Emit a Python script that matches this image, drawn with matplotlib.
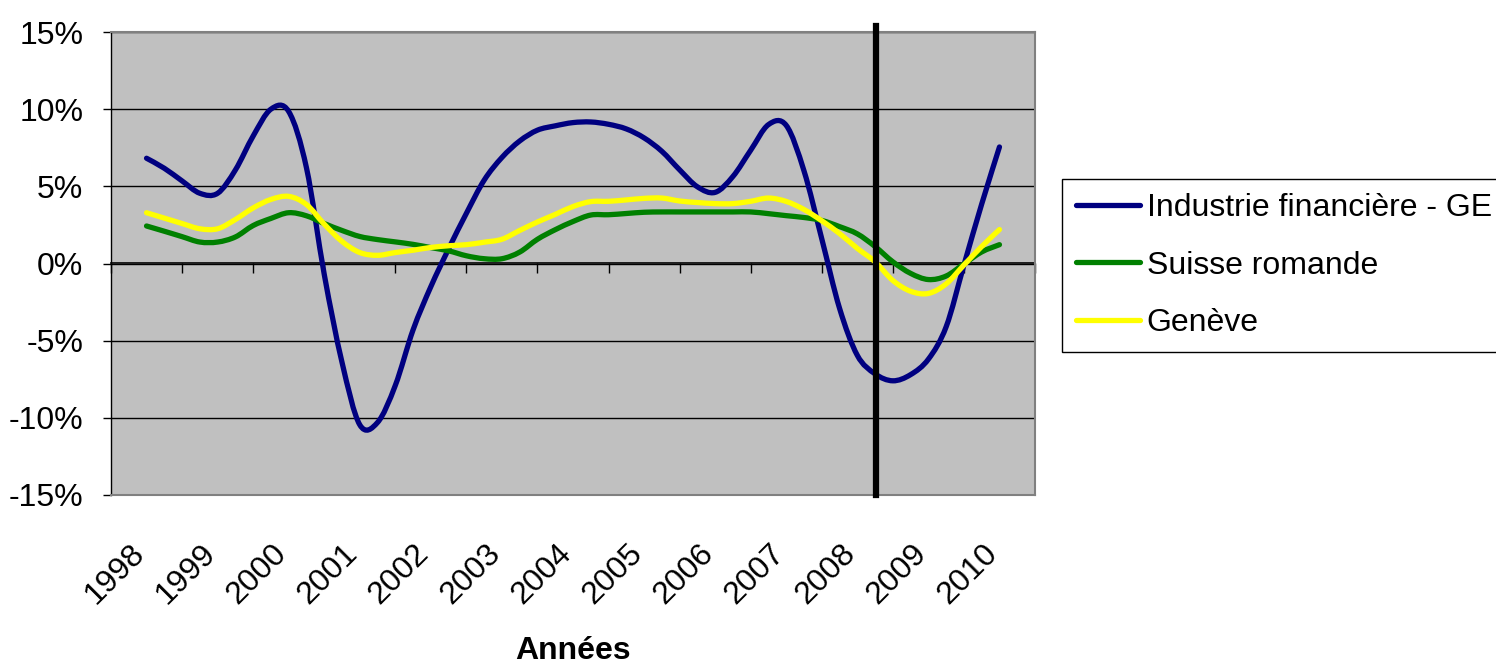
import numpy as np
import matplotlib
matplotlib.use("Agg")
import matplotlib.pyplot as plt
from matplotlib.path import Path
from matplotlib.patches import PathPatch
from matplotlib.lines import Line2D
from matplotlib.transforms import ScaledTranslation

plt.rcParams['font.family'] = ['Liberation Sans', 'DejaVu Sans']

# ---------------- data ----------------
years = list(range(1998, 2011))
year_labels = [str(y) for y in years]
# quarterly observations, mid-1998 .. mid-2010
dates = np.arange(1998.5, 2010.51, 0.25)

industrie_ge = [6.82, 6.17, 5.35, 4.55, 4.55, 6.06, 8.26, 10.0, 9.85, 6.2,
                -0.7, -6.4, -10.45, -10.3, -7.9, -4.3, -1.5, 0.95, 3.25, 5.4,
                6.87, 7.94, 8.64, 8.92, 9.13, 9.17, 9.02, 8.72, 8.14, 7.27,
                6.07, 4.97, 4.61, 5.64, 7.34, 9.0, 8.95, 6.0, 1.6, -2.9,
                -5.95, -7.15, -7.6, -7.2, -6.2, -4.1, -0.1, 3.85, 7.55]
suisse_romande = [2.43, 2.09, 1.74, 1.39, 1.39, 1.72, 2.46, 2.92, 3.29, 3.09,
                  2.59, 2.14, 1.75, 1.55, 1.4, 1.24, 1.03, 0.82, 0.5, 0.31,
                  0.31, 0.74, 1.57, 2.19, 2.72, 3.14, 3.16, 3.24, 3.32, 3.34,
                  3.34, 3.34, 3.34, 3.34, 3.34, 3.23, 3.1, 2.98, 2.79, 2.39,
                  1.92, 1.1, 0.11, -0.64, -1.04, -0.81, -0.03, 0.75, 1.22]
geneve = [3.29, 2.94, 2.59, 2.25, 2.25, 2.85, 3.6, 4.15, 4.35, 3.82,
          2.55, 1.43, 0.71, 0.53, 0.71, 0.86, 1.04, 1.15, 1.22, 1.38,
          1.57, 2.14, 2.69, 3.18, 3.69, 4.01, 4.03, 4.12, 4.22, 4.24,
          4.05, 3.95, 3.88, 3.88, 4.03, 4.24, 4.02, 3.5, 2.77, 1.94,
          0.98, 0.11, -1.1, -1.8, -1.94, -1.32, -0.1, 1.1, 2.2]

series_names = ["Industrie financière - GE", "Suisse romande", "Genève"]
series_values = [industrie_ge, suisse_romande, geneve]
series_colors = ["#000080", "#008000", "#FFFF00"]

crisis_marker = 2008.76
y_ticks = [-15, -10, -5, 0, 5, 10, 15]
y_tick_labels = ["-15%", "-10%", "-5%", "0%", "5%", "10%", "15%"]


def smooth_path(x, y):
    """Excel-like smoothed line (Bezier through the points)."""
    P = np.column_stack([x, y]).astype(float)
    n = len(P)
    verts = [P[0]]
    codes = [Path.MOVETO]
    for i in range(n - 1):
        p0 = P[i - 1] if i > 0 else P[i]
        p1 = P[i]
        p2 = P[i + 1]
        p3 = P[i + 2] if i + 2 < n else P[i + 1]
        c1 = p1 + (p2 - p0) / 6.0
        c2 = p2 - (p3 - p1) / 6.0
        verts += [c1, c2, p2]
        codes += [Path.CURVE4] * 3
    return Path(verts, codes)


# ---------------- figure ----------------
W, H = 1496, 667
fig = plt.figure(figsize=(W / 100, H / 100), dpi=100)
fig.patch.set_facecolor("white")
ax = fig.add_axes([111 / W, 1 - 495 / H, 924 / W, 463 / H])
ax.set_facecolor("#C0C0C0")
ax.set_xlim(1998, 2011)
ax.set_ylim(-15, 15)

ax.set_yticks(y_ticks)
ax.set_yticklabels(y_tick_labels)
ax.yaxis.grid(True, color="black", lw=1.0)
ax.set_axisbelow(True)
ax.tick_params(axis="y", direction="out", length=6, width=1, pad=14,
               labelsize=23, colors="black")

ax.set_xticks([y + 0.5 for y in years])
ax.set_xticklabels(year_labels)
ax.tick_params(axis="x", length=0, pad=31, labelsize=23)
shift = ScaledTranslation(-17 / 100, 0, fig.dpi_scale_trans)
for lab in ax.get_xticklabels():
    lab.set_rotation(45)
    lab.set_ha("right")
    lab.set_va("top")
    lab.set_rotation_mode("anchor")
    lab.set_transform(lab.get_transform() + shift)

for s in ["top", "right", "bottom"]:
    ax.spines[s].set_color("#808080")
    ax.spines[s].set_linewidth(1.5)
ax.spines["left"].set_color("black")
ax.spines["left"].set_linewidth(1.0)

# zero axis with category tick marks
sec = ax.secondary_xaxis(0.5)
sec.set_xticks(list(range(1998, 2012)))
sec.xaxis.set_minor_locator(matplotlib.ticker.NullLocator())
sec.tick_params(axis="x", which="major", direction="in", length=7, width=1,
                top=True, bottom=False, labeltop=False, labelbottom=False,
                color="black")
for s in sec.spines.values():
    s.set_color("black")
    s.set_linewidth(1.2)

# series
for vals, col in zip(series_values, series_colors):
    patch = PathPatch(smooth_path(dates, vals), facecolor="none", edgecolor=col,
                      lw=3.8, capstyle="round", joinstyle="round",
                      transform=ax.transData, zorder=3)
    ax.add_patch(patch)

ax.axvline(crisis_marker, ymin=0, ymax=1.012, color="black", lw=4.5,
           zorder=6, clip_on=False)

handles = [Line2D([], [], color=c, lw=3.8, solid_capstyle="round")
           for c in series_colors]
leg = fig.legend(handles, series_names, loc="upper left",
                 bbox_to_anchor=(1062 / W, 1 - 179 / H), fontsize=23,
                 frameon=True, fancybox=False, edgecolor="black",
                 framealpha=1, handlelength=2.0, handletextpad=0.2,
                 labelspacing=0.85, borderpad=0.45, borderaxespad=0)
leg.get_frame().set_linewidth(1.0)

fig.text(573 / W, 1 - 659 / H, "Années", ha="center", va="baseline",
         fontsize=23, fontweight="bold")

fig.savefig("out.png", dpi=100)
